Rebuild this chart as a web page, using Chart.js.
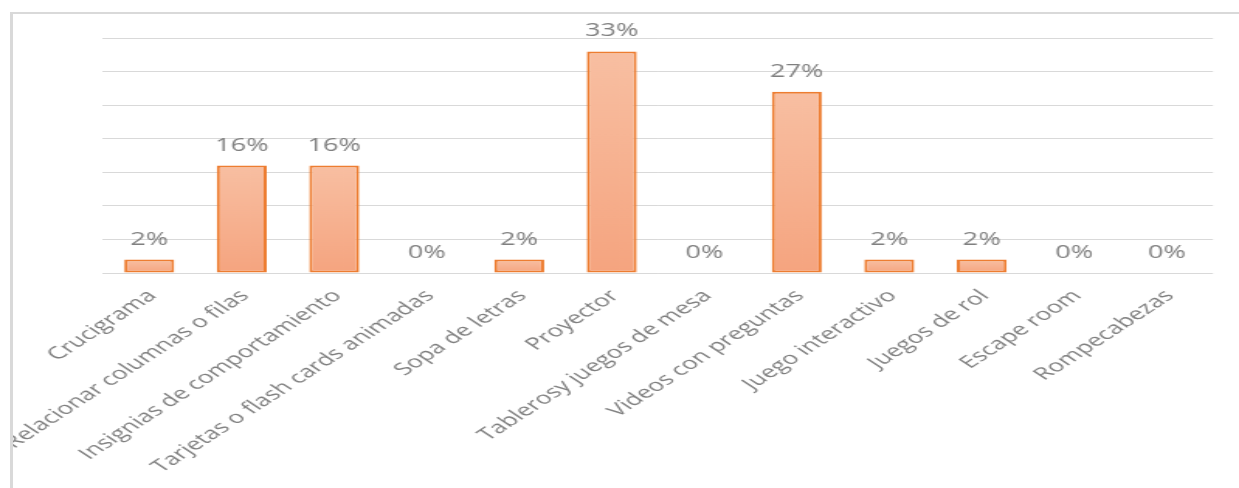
<!DOCTYPE html>
<html lang="es">
<head>
  <meta charset="UTF-8" />
  <title>Recursos didácticos</title>
  <script src="https://cdn.jsdelivr.net/npm/chart.js"></script>
  <style>
    body {
      margin: 0;
      background: #fff;
      overflow: hidden;
    }
    .wrap {
      position: relative;
      width: 1239px;
      height: 488px;
    }
    /* chart frame, only top and left edges fall inside the window */
    .frame {
      position: absolute;
      left: 10px;
      top: 12px;
      width: 1300px;
      height: 600px;
      border-left: 3px solid #d9d9d9;
      border-top: 2px solid #d9d9d9;
      pointer-events: none;
    }
    /* anything left of the frame is clipped away */
    .outside {
      position: absolute;
      left: 0;
      top: 0;
      width: 10px;
      height: 488px;
      background: #fff;
    }
    #chart {
      position: absolute;
      left: 0;
      top: 0;
    }
  </style>
</head>
<body>
  <div class="wrap">
    <!-- drawn narrow and stretched wide, like the exported chart -->
    <canvas id="chart" width="799" height="488" style="width:1239px;height:488px"></canvas>
    <div class="outside"></div>
    <div class="frame"></div>
  </div>

  <script>
    const categories = [
      'Crucigrama',
      'Relacionar columnas o filas',
      'Insignias de comportamiento',
      'Tarjetas o flash cards animadas',
      'Sopa de letras',
      'Proyector',
      'Tablerosy juegos de mesa',
      'Videos con preguntas',
      'Juego interactivo',
      'Juegos de rol',
      'Escape room',
      'Rompecabezas'
    ];
    const percentages = [2, 16, 16, 0, 2, 33, 0, 27, 2, 2, 0, 0];
    const yTicks = [0, 5, 10, 15, 20, 25, 30, 35];

    const STRETCH = 1239 / 799;
    const textGray = '#808080';

    // per-bar vertical gradient, lighter at the top
    function barFill(ctx) {
      const chart = ctx.chart;
      const y = chart.scales.y;
      if (!y || ctx.raw === undefined) return '#f6ae8c';
      const top = y.getPixelForValue(ctx.raw);
      const bottom = y.getPixelForValue(0);
      if (!Number.isFinite(top) || !Number.isFinite(bottom) || bottom - top < 1) return '#f6ae8c';
      const g = chart.ctx.createLinearGradient(0, top, 0, bottom);
      g.addColorStop(0, '#f8bfa2');
      g.addColorStop(1, '#f5a47f');
      return g;
    }

    // percentage text above every bar
    const valueLabels = {
      id: 'valueLabels',
      afterDatasetsDraw(chart) {
        const ctx = chart.ctx;
        const meta = chart.getDatasetMeta(0);
        ctx.save();
        ctx.font = '17.5px "Open Sans", sans-serif';
        ctx.fillStyle = textGray;
        ctx.textAlign = 'center';
        ctx.textBaseline = 'alphabetic';
        meta.data.forEach((bar, i) => {
          ctx.fillText(percentages[i] + '%', bar.x, bar.y - 15);
        });
        ctx.restore();
      }
    };

    new Chart(document.getElementById('chart'), {
      type: 'bar',
      data: {
        labels: categories,
        datasets: [{
          data: percentages,
          backgroundColor: barFill,
          borderColor: '#ed7d31',
          borderWidth: ctx => (ctx.raw > 0 ? 2 : 0),
          borderSkipped: false,
          categoryPercentage: 1,
          barPercentage: 0.54
        }]
      },
      options: {
        responsive: false,
        animation: false,
        layout: {
          padding: { left: 103 / STRETCH, right: 26 / STRETCH, top: 38, bottom: 0 }
        },
        plugins: {
          legend: { display: false },
          tooltip: { enabled: false }
        },
        scales: {
          x: {
            grid: { display: false },
            border: { display: false },
            ticks: {
              color: textGray,
              font: { family: '"Open Sans", sans-serif', size: 17 },
              minRotation: 45,
              maxRotation: 45,
              autoSkip: false,
              padding: 5,
              labelOffset: 2
            },
            afterFit: scale => { scale.height = 488 - 273; }
          },
          y: {
            min: yTicks[0],
            max: yTicks[yTicks.length - 1],
            afterBuildTicks: scale => { scale.ticks = yTicks.map(v => ({ value: v })); },
            ticks: { display: false },
            grid: { color: '#d9d9d9', lineWidth: 1, drawTicks: false },
            border: { display: false },
            afterFit: scale => { scale.width = 0; }
          }
        }
      },
      plugins: [valueLabels]
    });
  </script>
</body>
</html>
